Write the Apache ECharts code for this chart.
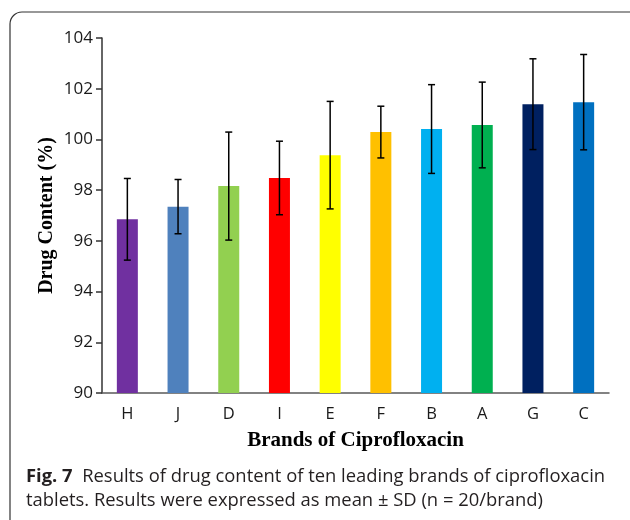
<!DOCTYPE html>
<html><head><meta charset="utf-8">
<script src="https://cdn.jsdelivr.net/npm/echarts@6/dist/echarts.min.js"></script>
<style>html,body{margin:0;padding:0;background:#fff}#c{width:630px;height:520px}</style>
</head><body><div id="c"></div>
<script>
const categories = ['H','J','D','I','E','F','B','A','G','C'];
const means = [96.85, 97.35, 98.16, 98.48, 99.38, 100.29, 100.41, 100.57, 101.39, 101.47];
const sds = [1.61, 1.07, 2.13, 1.45, 2.12, 1.02, 1.75, 1.69, 1.79, 1.88];
const colors = ['#7030A0','#4F81BD','#92D050','#FF0000','#FFFF00','#FFC000','#00B0F0','#00B050','#002060','#0070C0'];
const yTicks = [90, 92, 94, 96, 98, 100, 102, 104];

const chart = echarts.init(document.getElementById('c'));
chart.setOption({
  animation: false,
  grid: {left: 102, right: 21, top: 38, bottom: 127},
  xAxis: {
    type: 'category', data: categories,
    axisLine: {lineStyle: {color: '#595959', width: 1.5}},
    axisTick: {show: false},
    axisLabel: {color: '#1a1a1a', fontFamily: 'Open Sans', fontSize: 16.5, margin: 13},
    name: 'Brands of Ciprofloxacin', nameLocation: 'middle', nameGap: 37,
    nameTextStyle: {fontFamily: 'Liberation Serif', fontWeight: 'bold', fontSize: 21, color: '#000'}
  },
  yAxis: {
    type: 'value', min: yTicks[0], max: yTicks[yTicks.length-1], interval: 2,
    axisLine: {show: true, lineStyle: {color: '#333', width: 1.5}},
    axisTick: {show: true, length: 6, lineStyle: {color: '#333', width: 1.5}},
    splitLine: {show: false},
    axisLabel: {color: '#1a1a1a', fontFamily: 'Open Sans', fontSize: 17, margin: 9},
    name: 'Drug Content (%)', nameLocation: 'middle', nameGap: 45, nameMoveOverlap: false,
    nameTextStyle: {fontFamily: 'Liberation Serif', fontWeight: 'bold', fontSize: 20, color: '#000'}
  },
  series: [{
    type: 'bar', barWidth: 21,
    data: means.map((v, i) => ({value: v, itemStyle: {color: colors[i]}}))
  }, {
    type: 'custom', z: 5,
    data: means.map((v, i) => [i, v - sds[i], v + sds[i]]),
    renderItem: function (params, api) {
      const lo = api.coord([api.value(0), api.value(1)]);
      const hi = api.coord([api.value(0), api.value(2)]);
      const w = 3.5;
      const st = {stroke: '#000', lineWidth: 1.5};
      return {type: 'group', children: [
        {type: 'line', shape: {x1: hi[0], y1: hi[1], x2: lo[0], y2: lo[1]}, style: st},
        {type: 'line', shape: {x1: hi[0]-w, y1: hi[1], x2: hi[0]+w, y2: hi[1]}, style: st},
        {type: 'line', shape: {x1: lo[0]-w, y1: lo[1], x2: lo[0]+w, y2: lo[1]}, style: st}
      ]};
    }
  }],
  graphic: [
    {type: 'rect', shape: {x: 10, y: 12, width: 640, height: 520, r: 12}, style: {fill: 'none', stroke: '#333', lineWidth: 1.2}, z: -1},
    {type: 'text', left: 26, top: 465, style: {
      text: '{b|Fig. 7}  Results of drug content of ten leading brands of ciprofloxacin\ntablets. Results were expressed as mean ± SD (n = 20/brand)',
      fontFamily: 'Open Sans', fontSize: 18.4, lineHeight: 24, fill: '#231f20',
      rich: {b: {fontFamily: 'Open Sans', fontWeight: 'bold', fontSize: 18.4, fill: '#231f20'}}
    }}
  ]
});
</script></body></html>
